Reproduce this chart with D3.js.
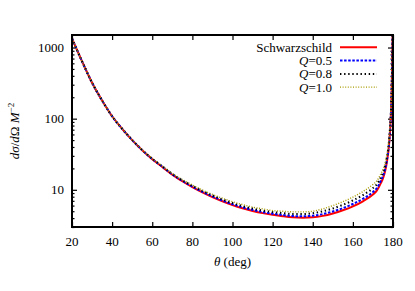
<!DOCTYPE html>
<html>
<head>
<meta charset="utf-8">
<script src="https://cdn.jsdelivr.net/npm/d3@7"></script>
<style>
    body { margin: 0; background: #fff; }
    svg text { font-family: "Liberation Serif", "DejaVu Serif", serif; font-size: 13px; fill: #000; }
</style>
</head>
<body>
<svg id="chart" width="415" height="291"></svg>
<script>
// scattering angle (deg)
const theta = [20, 25, 30, 35, 40, 45, 50, 55, 60, 65, 70, 75, 80, 85, 90, 95, 100, 105, 110, 115, 120,
    125, 130, 135, 140, 145, 150, 155, 160, 165, 170, 172, 174, 175, 176, 177, 178, 178.5, 179, 179.3, 179.6, 179.8];

// d sigma / d Omega in units of M^2
const schwarzschild = [1340, 640, 320, 180, 108, 72, 50, 36, 27, 21, 16.3, 13.2, 10.9, 9.2, 7.9, 6.9, 6.1, 5.5, 5.05, 4.7, 4.45,
    4.25, 4.1, 4.05, 4.1, 4.3, 4.65, 5.15, 5.85, 6.9, 8.6, 9.8, 12.5, 14.5, 18, 25, 42, 65, 120, 220, 600, 1600];
const q05 = [1340, 640, 320, 180, 108, 72, 50, 36.1, 27.1, 21.2, 16.46, 13.4, 11.1, 9.38, 8.07, 7.07, 6.26, 5.66, 5.21, 4.86, 4.61,
    4.42, 4.28, 4.25, 4.32, 4.56, 4.96, 5.52, 6.31, 7.47, 9.32, 10.6, 13.5, 15.6, 19.2, 26.5, 44.3, 68.3, 126, 229, 621, 1646];
const q08 = [1340, 640, 320, 180, 108, 72.1, 50.1, 36.2, 27.3, 21.4, 16.71, 13.6, 11.4, 9.66, 8.35, 7.33, 6.52, 5.91, 5.46, 5.11, 4.87,
    4.7, 4.58, 4.57, 4.68, 4.99, 5.47, 6.15, 7.09, 8.44, 10.57, 12.0, 15.15, 17.4, 21.3, 29.1, 48.2, 73.8, 135, 245, 656, 1720];
const q10 = [1340, 640, 320, 180, 108, 72.2, 50.2, 36.4, 27.5, 21.6, 16.95, 13.9, 11.7, 9.9, 8.6, 7.6, 6.8, 6.2, 5.7, 5.4, 5.1,
    5.0, 4.9, 4.9, 5.0, 5.4, 6.0, 6.8, 7.9, 9.45, 11.9, 13.4, 16.9, 19.3, 23.4, 31.8, 52, 79, 144, 260, 690, 1790];

const xTicks = [20, 40, 60, 80, 100, 120, 140, 160, 180];
const yTicks = [10, 100, 1000];
const yMinor = [3, 4, 5, 6, 7, 8, 9, 20, 30, 40, 50, 60, 70, 80, 90, 200, 300, 400, 500, 600, 700, 800, 900];

const series = [
    { name: "Schwarzschild", q: null, values: schwarzschild, color: "#ff0000", width: 2, dash: null },
    { name: "0.5", q: true, values: q05, color: "#0000ff", width: 2, dash: "2.5,1.6" },
    { name: "0.8", q: true, values: q08, color: "#000000", width: 2, dash: "1.4,2.7" },
    { name: "1.0", q: true, values: q10, color: "#a89a00", width: 1.4, dash: "1,1.6" }
];

const svg = d3.select("#chart");
const plotLeft = 72, plotRight = 393, plotTop = 35, plotBottom = 227;

const x = d3.scaleLinear().domain([20, 180]).range([plotLeft, plotRight]);
const y = d3.scaleLog().domain([3, 1500]).range([plotBottom, plotTop]);

svg.append("rect").attr("width", 415).attr("height", 291).attr("fill", "#fff");

svg.append("clipPath").attr("id", "plot-clip")
    .append("rect").attr("x", plotLeft).attr("y", plotTop)
    .attr("width", plotRight - plotLeft).attr("height", plotBottom - plotTop);

// ticks, pointing inward on all four sides
function tickAxis(axis, transform, size, values) {
    let g = svg.append("g").attr("transform", transform)
        .call(axis.tickValues(values).tickSize(size).tickFormat(""));
    g.select(".domain").remove();
    g.selectAll(".tick line").attr("stroke", "#000").attr("stroke-width", 1.2);
}

tickAxis(d3.axisBottom(x), "translate(0," + plotBottom + ")", -5, xTicks);
tickAxis(d3.axisTop(x), "translate(0," + plotTop + ")", -5, xTicks);
tickAxis(d3.axisLeft(y), "translate(" + plotLeft + ",0)", -5, yTicks);
tickAxis(d3.axisRight(y), "translate(" + plotRight + ",0)", -5, yTicks);
tickAxis(d3.axisLeft(y), "translate(" + plotLeft + ",0)", -2.5, yMinor);
tickAxis(d3.axisRight(y), "translate(" + plotRight + ",0)", -2.5, yMinor);

// tick labels
svg.append("g").selectAll("text").data(xTicks).join("text")
    .attr("x", d => x(d)).attr("y", 246)
    .attr("text-anchor", "middle")
    .text(d => d);

svg.append("g").selectAll("text").data(yTicks).join("text")
    .attr("x", 64).attr("y", d => y(d) + 4.5)
    .attr("text-anchor", "end")
    .text(d => d);

// curves
let line = d3.line()
    .x((d, i) => x(theta[i]))
    .y(d => y(d))
    .curve(d3.curveMonotoneX);

let curves = svg.append("g").attr("clip-path", "url(#plot-clip)");
for (let s of series) {
    curves.append("path")
        .attr("d", line(s.values))
        .attr("fill", "none")
        .attr("stroke", s.color)
        .attr("stroke-width", s.width)
        .attr("stroke-dasharray", s.dash);
}

// frame
svg.append("rect")
    .attr("x", plotLeft).attr("y", plotTop)
    .attr("width", plotRight - plotLeft).attr("height", plotBottom - plotTop)
    .attr("fill", "none").attr("stroke", "#000").attr("stroke-width", 2);

// legend
let legendRows = [47.3, 60.6, 73.9, 87.1];
series.forEach(function (s, i) {
    let row = legendRows[i];
    let label = svg.append("text")
        .attr("x", 332).attr("y", row + 4.5)
        .attr("text-anchor", "end");
    if (s.q) {
        label.append("tspan").attr("font-style", "italic").text("Q");
        label.append("tspan").text("=" + s.name);
    } else {
        label.text(s.name);
    }
    svg.append("line")
        .attr("x1", 340).attr("x2", 377)
        .attr("y1", row).attr("y2", row)
        .attr("stroke", s.color)
        .attr("stroke-width", s.width)
        .attr("stroke-dasharray", s.dash);
});

// axis titles
let xTitle = svg.append("text")
    .attr("x", (plotLeft + plotRight) / 2).attr("y", 266)
    .attr("text-anchor", "middle");
xTitle.append("tspan").attr("font-style", "italic").text("θ");
xTitle.append("tspan").text(" (deg)");

let yTitle = svg.append("text")
    .attr("transform", "translate(19," + (plotTop + plotBottom) / 2 + ") rotate(-90)")
    .attr("text-anchor", "middle");
yTitle.append("tspan").attr("font-style", "italic").text("dσ");
yTitle.append("tspan").text("/");
yTitle.append("tspan").attr("font-style", "italic").text("d");
yTitle.append("tspan").text("Ω ");
yTitle.append("tspan").attr("font-style", "italic").text("M");
yTitle.append("tspan").attr("font-size", "9px").attr("dy", -5).text("−2");
</script>
</body>
</html>
